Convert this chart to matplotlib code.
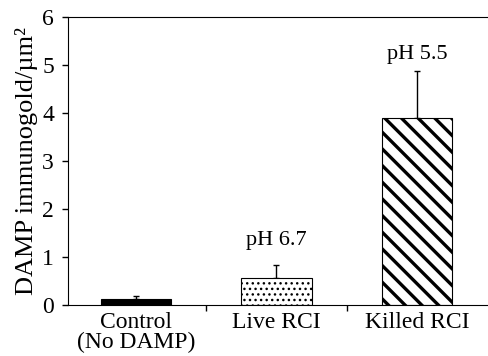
import numpy as np
import matplotlib
matplotlib.use("Agg")
import matplotlib.pyplot as plt

# data
groups = ["Control\n(No DAMP)", "Live RCI", "Killed RCI"]
means = [0.13, 0.57, 3.9]
errs = [0.05, 0.27, 0.98]
ph_labels = ["", "pH 6.7", "pH 5.5"]
ph_y = [0, 1.25, 5.12]

plt.rcParams['font.family'] = ['Liberation Serif', 'DejaVu Serif']

fig = plt.figure(figsize=(4.88, 3.56), dpi=100)
# right edge runs past the canvas, like the cropped original
ax = fig.add_axes([0.1393, 0.1433, 0.875, 0.809])

x = np.arange(len(groups))
styles = [dict(color='black', hatch=None, hlw=1.0),
          dict(color='white', hatch='...', hlw=1.0),
          dict(color='white', hatch='\\\\', hlw=2.4)]

for i in range(len(groups)):
    st = styles[i]
    plt.rcParams['hatch.linewidth'] = st['hlw']
    ax.bar(x[i], means[i], width=0.5, color=st['color'], edgecolor='black',
           linewidth=0.8, hatch=st['hatch'], zorder=2)
    ax.errorbar(x[i], means[i], yerr=[[0], [errs[i]]], fmt='none',
                ecolor='black', elinewidth=1.0, capsize=2.5, capthick=1.0, zorder=1)
    if ph_labels[i]:
        ax.text(x[i], ph_y[i], ph_labels[i], ha='center', va='baseline', fontsize=16)

ax.set_xlim(-0.486, 2.557)
ax.set_ylim(0, 6)
ax.set_yticks(range(0, 7))
ax.set_xticks(x)
ax.set_xticklabels(groups, fontsize=17, linespacing=0.95)
ax.set_xticks([0.5, 1.5], minor=True)
ax.tick_params(axis='x', which='major', length=0, pad=5)
ax.tick_params(axis='x', which='minor', length=4, direction='out', width=1)
ax.tick_params(axis='y', length=4, direction='out', width=1, labelsize=17, pad=6)

ax.spines['right'].set_visible(False)
ax.set_ylabel('DAMP immunogold/µm²', fontsize=19, labelpad=3)

fig.savefig('out.png', dpi=100)
